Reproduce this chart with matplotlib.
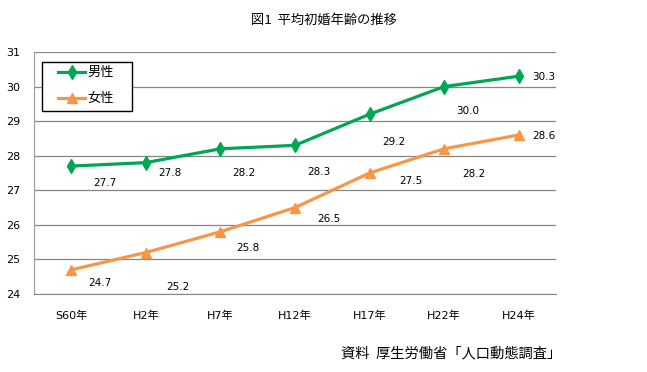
import matplotlib
matplotlib.use("Agg")
import matplotlib.pyplot as plt
from matplotlib.patches import Rectangle
from matplotlib.lines import Line2D

plt.rcParams['font.family'] = ['DejaVu Sans', 'Noto Sans CJK JP']

years = ["S60年", "H2年", "H7年", "H12年", "H17年", "H22年", "H24年"]
male = [27.7, 27.8, 28.2, 28.3, 29.2, 30.0, 30.3]
female = [24.7, 25.2, 25.8, 26.5, 27.5, 28.2, 28.6]

# label offsets in pixels (right, down)
male_off = [(34, 17), (24, 10), (23, 24), (24, 27), (24, 28), (24, 24), (25, 1)]
female_off = [(29, 13), (32, 34), (27, 16), (34, 11), (41, 8), (30, 25), (25, 1)]

green = "#00a651"
orange = "#f79646"
W, H = 647, 372

fig = plt.figure(figsize=(W / 100, H / 100), dpi=100)
ax = fig.add_axes([34 / W, 1 - 294 / H, 522 / W, 242 / H])

x = list(range(len(years)))
ax.plot(x, male, color=green, lw=2.3, marker="d", ms=7, label="男性")
ax.plot(x, female, color=orange, lw=2.3, marker="^", ms=7.5, label="女性")

for vals, offs in ((male, male_off), (female, female_off)):
    for i, v in enumerate(vals):
        dx, dy = offs[i]
        ax.annotate(f"{v:.1f}", (i, v), xytext=(dx, -dy), textcoords="offset pixels",
                    ha="center", va="center", fontsize=7.5)

ax.set_xlim(-0.5, len(years) - 0.5)
ax.set_ylim(24, 31)
ax.set_yticks(range(24, 32))
ax.set_xticks(x)
ax.set_xticklabels(years)
ax.tick_params(axis="both", length=0, labelsize=8)
ax.tick_params(axis="x", pad=12)
ax.tick_params(axis="y", pad=10)
ax.grid(axis="y", color="#868686", lw=0.9)
ax.set_axisbelow(True)
for s in ["top", "right"]:
    ax.spines[s].set_visible(False)
ax.spines["left"].set_color("#999999")
ax.spines["bottom"].set_color("#868686")

# legend box drawn by hand to match the original layout
fig.patches.append(Rectangle((42 / W, 1 - 111 / H), 90 / W, 49 / H, transform=fig.transFigure,
                             facecolor="white", edgecolor="black", lw=1.0))
for (name, col, mk, ms), py in zip([("男性", green, "d", 7), ("女性", orange, "^", 7.5)], [72, 98]):
    fig.lines.append(Line2D([58 / W, 85 / W], [1 - py / H] * 2, transform=fig.transFigure,
                            color=col, lw=2.3))
    fig.lines.append(Line2D([71.5 / W], [1 - py / H], transform=fig.transFigure,
                            color=col, marker=mk, ms=ms, lw=0))
    fig.text(87 / W, 1 - py / H, name, ha="left", va="center", fontsize=9.5,
             family=["Noto Sans CJK JP"])

fig.text(324 / W, 1 - 20 / H, "図1  平均初婚年齢の推移", ha="center", va="center", fontsize=9.5,
         family=["Noto Sans CJK JP"])
fig.text(561 / W, 1 - 353 / H, "資料  厚生労働省「人口動態調査」", ha="right", va="center", fontsize=10.3,
         family=["Noto Sans CJK JP"])

fig.savefig("out.png", dpi=100)
